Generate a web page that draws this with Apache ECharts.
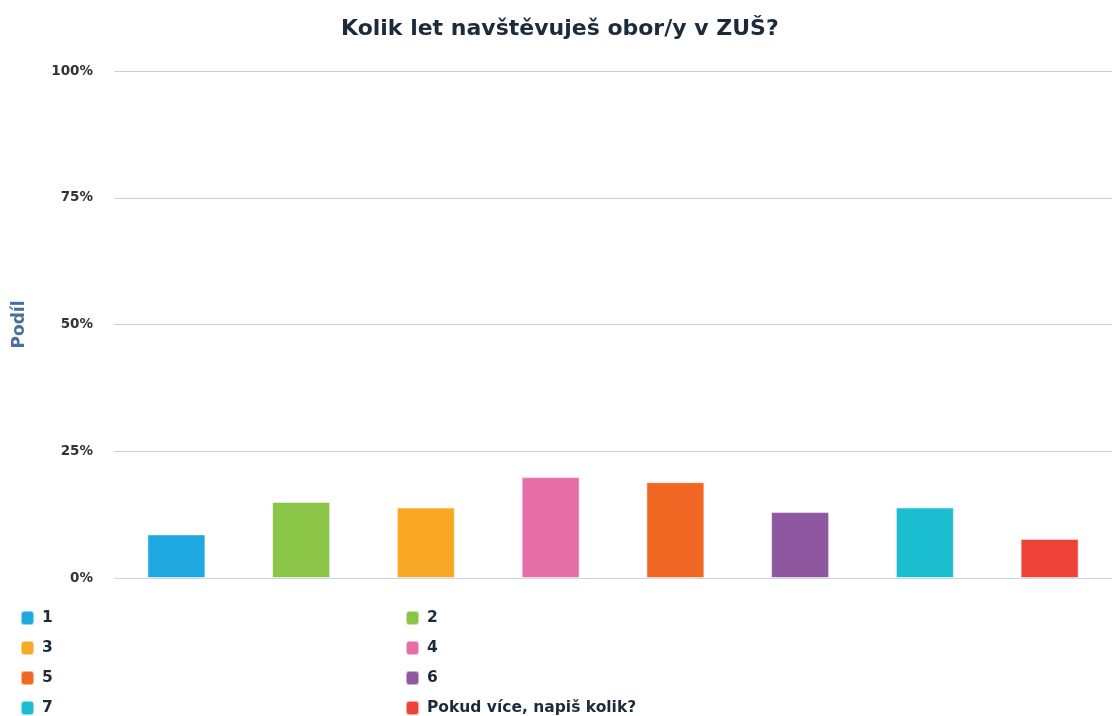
<!DOCTYPE html>
<html>
<head>
<meta charset="utf-8">
<script src="https://cdn.jsdelivr.net/npm/echarts@6/dist/echarts.min.js"></script>
<style>
  html, body { margin: 0; padding: 0; background: #fff; }
  #chart { width: 1112px; height: 716px; }
</style>
</head>
<body>
<div id="chart"></div>
<script>
// data
const categories = ["1", "2", "3", "4", "5", "6", "7", "Pokud více, napiš kolik?"];
const shares = [8.6, 15.0, 13.9, 19.9, 18.9, 13.0, 13.9, 7.7];
const colors = ["#1fa8e0", "#8bc547", "#f9a825", "#e76fa8", "#f06724", "#8e57a0", "#1bbdd0", "#ee4236"];
const yTicks = [0, 25, 50, 75, 100];

const chart = echarts.init(document.getElementById("chart"));

// one series per answer, so the legend lists each one
const series = categories.map((name, i) => ({
  name: name,
  type: "bar",
  stack: "all",
  barWidth: 58,
  itemStyle: { color: colors[i], borderColor: "rgba(255,255,255,0.5)", borderWidth: 1 },
  data: categories.map((c, j) => (j === i ? shares[i] : "-")),
}));

// legend laid out as two columns, one small legend per entry
const legends = categories.map((name, i) => ({
  left: i % 2 === 0 ? 20 : 405,
  top: 610 + Math.floor(i / 2) * 30,
  padding: 0,
  itemWidth: 13, itemHeight: 14,
  icon: "roundRect",
  textStyle: {
    fontFamily: "DejaVu Sans", fontWeight: "bold", fontSize: 15.5, color: "#1c2b3a",
    padding: [0, 0, 0, 3],
  },
  data: [name],
}));

chart.setOption({
  animation: false,
  title: {
    text: "Kolik let navštěvuješ obor/y v ZUŠ?",
    left: 341,
    top: 18,
    padding: 0,
    textStyle: { fontFamily: "DejaVu Sans", fontWeight: "bold", fontSize: 22, color: "#1c2b3a" },
  },
  grid: { left: 114, right: 0, top: 71, bottom: 138, containLabel: false },
  legend: legends,
  xAxis: {
    type: "category",
    data: categories,
    axisLine: { lineStyle: { color: "#ccd6eb", width: 1 } },
    axisTick: { alignWithLabel: true, length: 8, lineStyle: { color: "#ccd6eb" } },
    axisLabel: { show: false },
  },
  yAxis: {
    type: "value",
    min: yTicks[0],
    max: yTicks[yTicks.length - 1],
    interval: 25,
    name: "Podíl",
    nameLocation: "middle",
    nameGap: 86,
    nameRotate: 90,
    nameTextStyle: { fontFamily: "DejaVu Sans", fontWeight: "bold", fontSize: 17, color: "#4a6f9a" },
    axisLabel: {
      formatter: "{value}%",
      margin: 21,
      fontFamily: "DejaVu Sans", fontWeight: "bold", fontSize: 13.5, color: "#333",
    },
    splitLine: { lineStyle: { color: "#cfcfcf", width: 1 } },
  },
  series: series,
});
</script>
</body>
</html>
